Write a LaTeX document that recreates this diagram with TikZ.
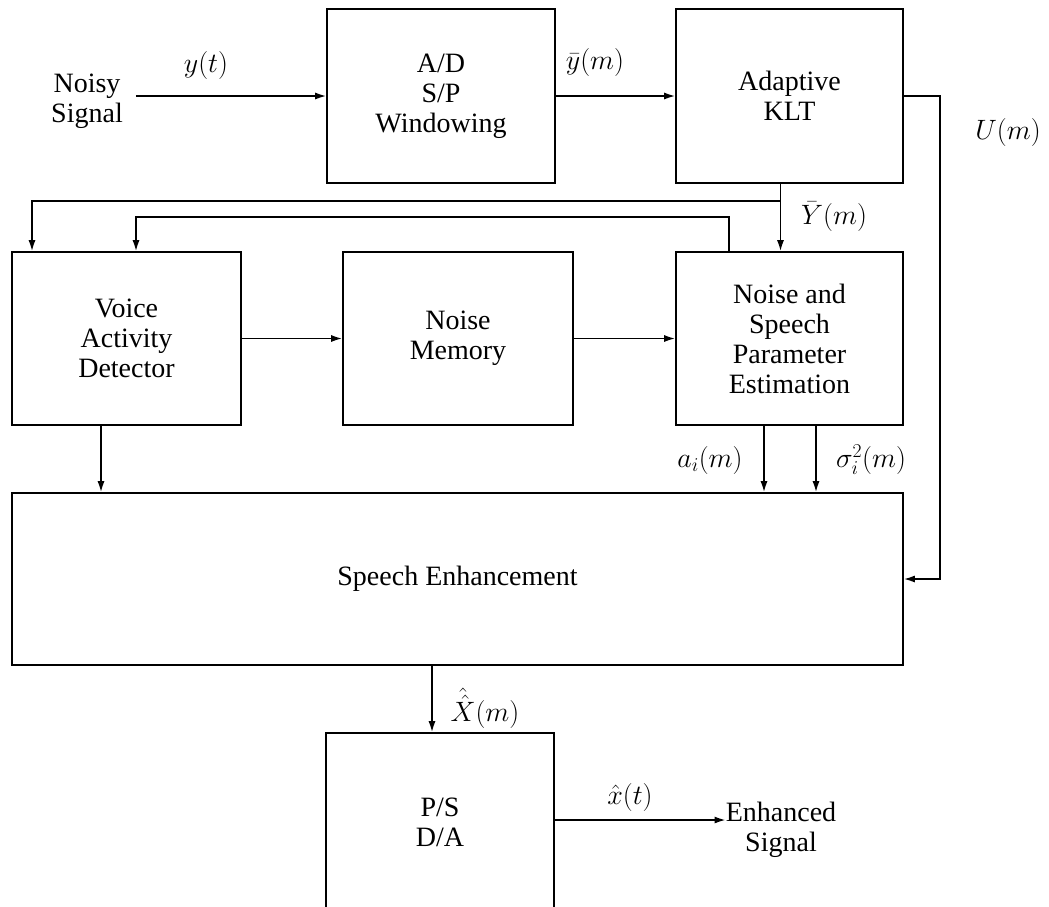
\documentclass[tikz,border=0pt]{standalone}
\usepackage{fix-cm}
\usepackage[no-math]{fontspec}
\setmainfont{Liberation Serif}
\usetikzlibrary{arrows.meta}

\tikzset{
  txt/.style={font=\fontsize{28}{30}\selectfont, inner sep=0pt, align=center},
  block/.style={txt, draw, line width=1.6pt},
  link/.style={line width=1.6pt},
  arr/.style={link, -{Latex[length=11pt,width=7pt]}},
}

\begin{document}
\begin{tikzpicture}[x=1pt, y=-1pt]
  \useasboundingbox (0,0) rectangle (1049,906);

  % processing blocks
  \node[block, minimum width=228pt, minimum height=174pt] (ad)   at (441,96)    {A/D\\S/P\\Windowing};
  \node[block, minimum width=227pt, minimum height=174pt] (klt)  at (789.5,96)  {Adaptive\\KLT};
  \node[block, minimum width=229pt, minimum height=173pt] (vad)  at (126.5,338.5) {Voice\\Activity\\Detector};
  \node[block, minimum width=230pt, minimum height=173pt] (nm)   at (458,338.5) {Noise\\Memory};
  \node[block, minimum width=227pt, minimum height=173pt] (nspe) at (789.5,338.5) {Noise and\\Speech\\Parameter\\Estimation};
  \node[block, minimum width=891pt, minimum height=172pt] (se)   at (457.5,579) {Speech Enhancement};
  \node[block, minimum width=228pt, minimum height=178pt] (ps)   at (440,822)   {P/S\\D/A};

  % input and output terminals
  \node[txt] (noisy) at (87,101) {Noisy\\Signal};
  \node[txt] (enh)   at (781,830) {Enhanced\\Signal};

  % tap point for the KLT output vector
  \coordinate (tap) at ([xshift=-9pt]klt.south |- 0,201);

  % signal path
  \draw[arr] ([xshift=13pt]noisy.east |- ad.west) -- (ad.west);
  \draw[arr] (ad.east) -- (klt.west);
  \draw[arr] (klt.east) -- ++(36,0) |- (se.east);
  \draw[arr] ([xshift=-9pt]klt.south) -- ([xshift=-9pt]nspe.north);
  \draw[arr] (tap) -| ([xshift=-94.5pt]vad.north);
  \draw[arr] ([xshift=-60.5pt]nspe.north) -- ++(0,-34) -| ([xshift=9.5pt]vad.north);
  \draw[arr] (vad.east) -- (nm.west);
  \draw[arr] (nm.east) -- (nspe.west);
  \draw[arr] ([xshift=-25.5pt]vad.south) -- ([xshift=-25.5pt]vad.south |- se.north);
  \draw[arr] ([xshift=-25.5pt]nspe.south) -- ([xshift=-25.5pt]nspe.south |- se.north);
  \draw[arr] ([xshift=26.5pt]nspe.south) -- ([xshift=26.5pt]nspe.south |- se.north);
  \draw[arr] ([xshift=-8pt]ps.north |- se.south) -- ([xshift=-8pt]ps.north);
  \draw[arr] ([yshift=2pt]ps.east) -- ([yshift=2pt]ps.east -| enh.west);

  % signal labels
  \node[txt] at (206,65)   {$y(t)$};
  \node[txt] at (595,62)   {$\bar{y}(m)$};
  \node[txt] at (1008,132) {$U(m)$};
  \node[txt] at (834,217)  {$\bar{Y}(m)$};
  \node[txt] at (710,460)  {$a_i(m)$};
  \node[txt] at (871,460)  {$\sigma_i^2(m)$};
  \node[txt] at (485,708)  {$\hat{\hat{X}}(m)$};
  \node[txt] at (630,797)  {$\hat{x}(t)$};
\end{tikzpicture}
\end{document}
